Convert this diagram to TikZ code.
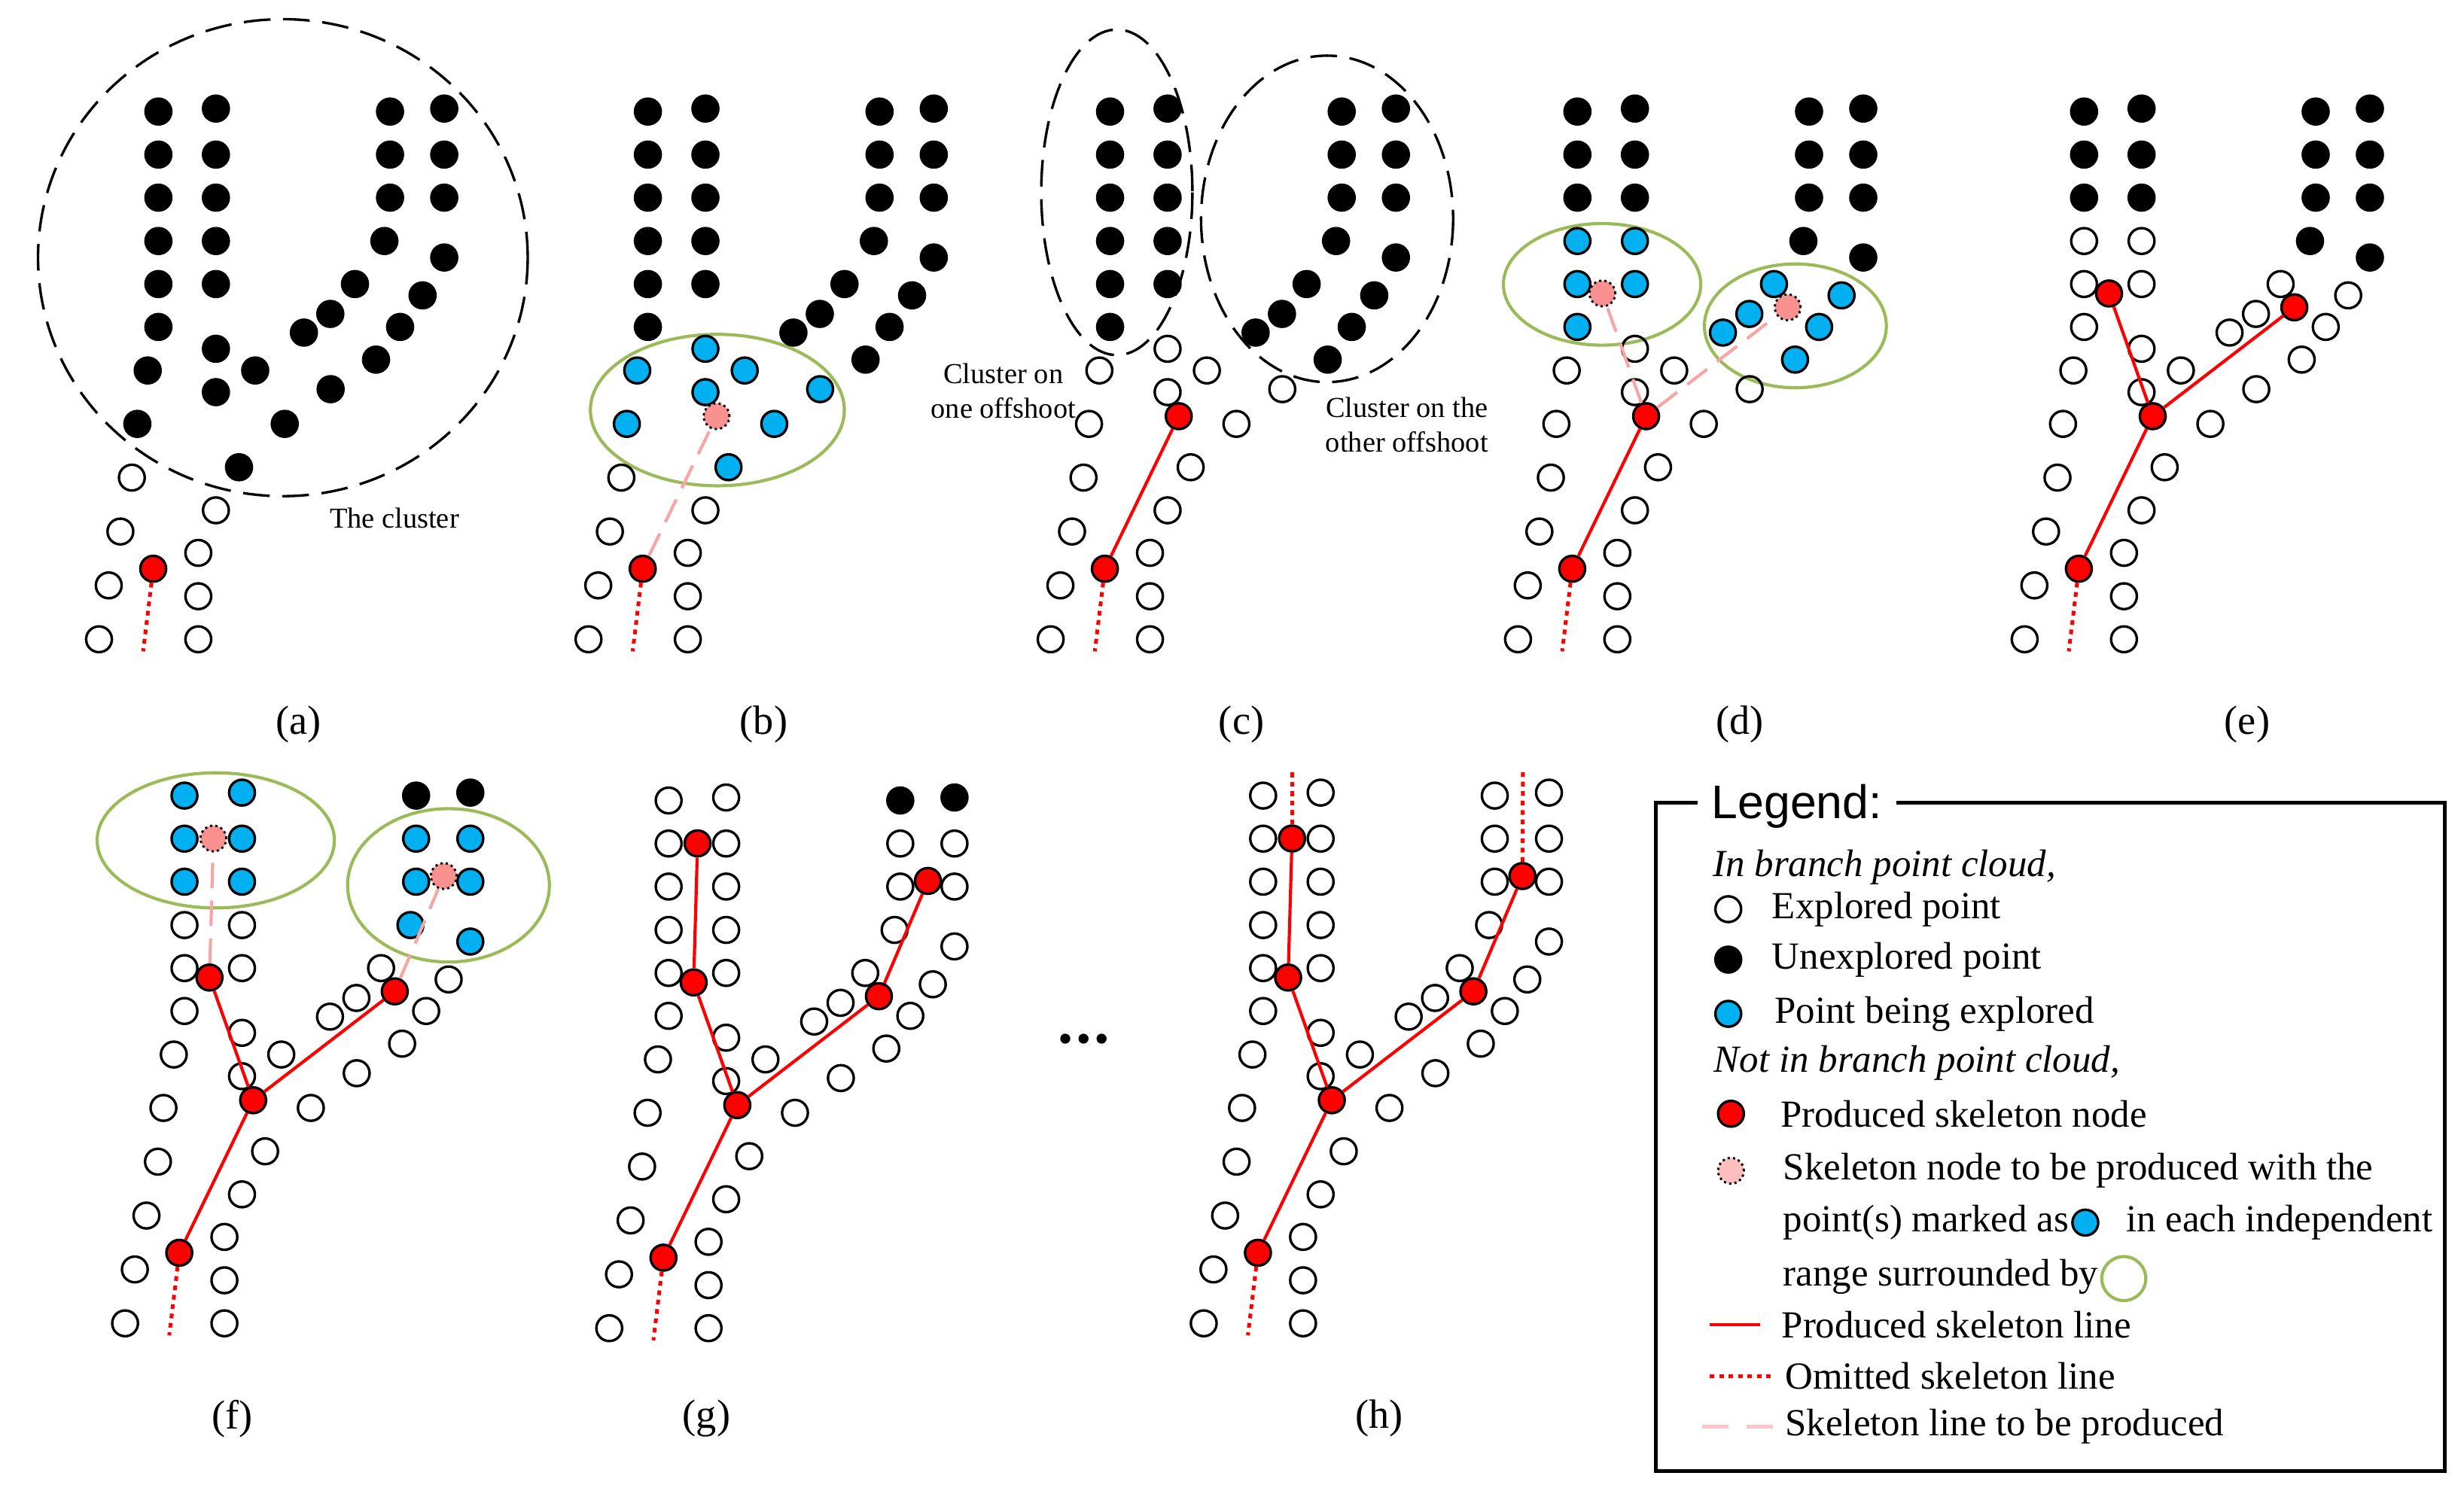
\documentclass[tikz,border=0pt]{standalone}
\usepackage{fontspec}
\setmainfont{Liberation Serif}
\newfontfamily\legendfont{Liberation Sans}

\definecolor{probeblue}{RGB}{0,176,240}
\definecolor{rangegreen}{RGB}{155,187,89}
\definecolor{pendpink}{RGB}{250,145,145}
\definecolor{linepink}{RGB}{248,165,165}
\definecolor{legpink}{RGB}{255,195,200}
\definecolor{legnode}{RGB}{255,190,190}

\tikzset{
  explored/.style={circle, draw=black, line width=0.8pt, minimum size=8.2pt, inner sep=0pt},
  unexplored/.style={explored, fill=black},
  exploring/.style={explored, fill=probeblue},
  skelnode/.style={explored, fill=red},
  pendnode/.style={circle, draw=black, densely dotted, line width=0.7pt, fill=pendpink, minimum size=8.2pt, inner sep=0pt},
  skelline/.style={red, line width=1pt},
  omitline/.style={red, line width=1.2pt, dash pattern=on 1.5pt off 1.5pt},
  pendline/.style={linepink, line width=1pt, dash pattern=on 8pt off 4pt},
  clusterring/.style={black, line width=0.8pt, dash pattern=on 8.5pt off 4pt},
  rangering/.style={rangegreen, line width=1pt},
  sublabel/.style={font=\fontsize{13}{15}\selectfont},
  note/.style={font=\fontsize{9.2}{11}\selectfont, align=center},
  legtext/.style={anchor=west, inner sep=0pt, font=\fontsize{12.2}{14}\selectfont},
  legital/.style={legtext, font=\fontsize{12.2}{14}\selectfont\itshape},
  legtitle/.style={fill=white, inner xsep=4.5pt, font=\legendfont\fontsize{15}{17}\selectfont}
}

% point template of one branch, offsets from the lowest left point
\def\template{L1/0/0, L2/6.2/-34.3, L3/13.6/-68.6, L4/20.9/-102.9, L5/24.4/-137.1,
  L6/31/-171.1, L7/37.8/-198.8, L8/37.8/-226.1, L9/37.8/-253.5, L10/37.8/-281.1,
  L11/37.8/-308.5, L12/37.8/-335.9,
  M1/63.2/0, M2/63.2/-27.4, M3/63.2/-55, M4/74.4/-82.1, M5/89.1/-109.5,
  M6/74.4/-157.3, M7/74.4/-184.9, M8/74.4/-226.1, M9/74.4/-253.5, M10/74.4/-281.1,
  M11/74.4/-308.5, M12/74.4/-337.8,
  N1/99.4/-171.1, N2/118.2/-137.1,
  P1/130.4/-195.2, P2/147.2/-207.1, P3/162.9/-226.1, P4/181.6/-253.5,
  P5/185.2/-281.1, P6/185.2/-308.5, P7/185.2/-335.9,
  Q1/147.4/-159.2, Q2/176.3/-178, Q3/191.6/-198.8, Q4/205.9/-218.9,
  Q5/219.7/-243, Q6/219.7/-281.1, Q7/219.7/-308.5, Q8/219.7/-337.8}

\makeatletter
\newcommand\setstate[2]{\@for\ptname:=#2\do{\expandafter\def\csname st@\ptname\endcsname{#1}}}
\newcommand\drawpoints[1]{%
  \foreach \n/\x/\y in \template {%
    \ifcsname st@\n\endcsname
      \edef\ptst{\csname st@\n\endcsname}%
    \else
      \def\ptst{explored}%
    \fi
    \expandafter\node\expandafter[\ptst] (#1\n) at (\x,\y) {};%
  }%
}
\makeatother

\begin{document}
\begin{tikzpicture}[x=0.5pt,y=-0.5pt]
  \useasboundingbox (0,0) rectangle (1568,949);

  % (a)
  \draw[clusterring] (180,164) ellipse [x radius=155.8, y radius=151.8];
  \begin{scope}[shift={(63,406.9)}]
    \setstate{unexplored}{L5,L6,L7,L8,L9,L10,L11,L12,M5,M6,M7,M8,M9,M10,M11,M12,N1,N2,P1,P2,P3,P4,P5,P6,P7,Q1,Q2,Q3,Q4,Q5,Q6,Q7,Q8}
    \drawpoints{a}
    \node[skelnode] (aR1) at (34.5,-44.9) {};
    \coordinate (aE) at (28.1,7.7);
    \draw[omitline] (aR1) -- (aE);
  \end{scope}
  \node[note] (clusA) at (251,330) {The cluster};
  \node[sublabel] (labA) at (190,461) {(a)};

  % (b)
  \draw[rangering] (456.5,261) ellipse [x radius=80.8, y radius=48.2];
  \begin{scope}[shift={(374.5,406.9)}]
    \setstate{unexplored}{L7,L8,L9,L10,L11,L12,M8,M9,M10,M11,M12,P1,P2,P3,P4,P5,P6,P7,Q2,Q3,Q4,Q5,Q6,Q7,Q8}
    \setstate{exploring}{L5,L6,M5,M6,M7,N1,N2,Q1}
    \drawpoints{b}
    \node[skelnode] (bR1) at (34.5,-44.9) {};
    \node[pendnode] (bR2) at (81.5,-142) {};
    \coordinate (bE) at (28.1,7.7);
    \draw[omitline] (bR1) -- (bE);
    \draw[pendline] (bR1) -- (bR2);
  \end{scope}
  \node[sublabel] (labB) at (486,461) {(b)};

  % (c)
  \draw[clusterring] (710.7,122.4) ellipse [x radius=48.1, y radius=103.6];
  \draw[clusterring] (844.5,139.3) ellipse [x radius=80.2, y radius=103.9];
  \begin{scope}[shift={(668.6,406.9)}]
    \setstate{unexplored}{L7,L8,L9,L10,L11,L12,M8,M9,M10,M11,M12,P1,P2,P3,P4,P5,P6,P7,Q2,Q3,Q4,Q5,Q6,Q7,Q8}
    \drawpoints{c}
    \node[skelnode] (cR1) at (34.5,-44.9) {};
    \node[skelnode] (cR2) at (81.5,-142) {};
    \coordinate (cE) at (28.1,7.7);
    \draw[omitline] (cR1) -- (cE);
    \draw[skelline] (cR1) -- (cR2);
  \end{scope}
  \node[note] (clusC1) at (638.5,248.8) {Cluster on\\one offshoot};
  \node[note] (clusC2) at (895.3,270.4) {Cluster on the\\other offshoot};
  \node[sublabel] (labC) at (790,461) {(c)};

  % (d)
  \draw[rangering] (1019.5,181) ellipse [x radius=62.8, y radius=38.7];
  \draw[rangering] (1142.5,207.4) ellipse [x radius=57.9, y radius=39.4];
  \begin{scope}[shift={(966,406.9)}]
    \setstate{unexplored}{L10,L11,L12,M10,M11,M12,P4,P5,P6,P7,Q5,Q6,Q7,Q8}
    \setstate{exploring}{L7,L8,L9,M8,M9,P1,P2,P3,Q2,Q3,Q4}
    \drawpoints{d}
    \node[skelnode] (dR1) at (34.5,-44.9) {};
    \node[skelnode] (dR2) at (81.5,-142) {};
    \node[pendnode] (dR3) at (53.7,-220.1) {};
    \node[pendnode] (dR4) at (171.6,-211.3) {};
    \coordinate (dE) at (28.1,7.7);
    \draw[omitline] (dR1) -- (dE);
    \draw[skelline] (dR1) -- (dR2);
    \draw[pendline] (dR2) -- (dR3);
    \draw[pendline] (dR2) -- (dR4);
  \end{scope}
  \node[sublabel] (labD) at (1107,461) {(d)};

  % (e)
  \begin{scope}[shift={(1288.4,406.9)}]
    \setstate{unexplored}{L10,L11,L12,M10,M11,M12,P4,P5,P6,P7,Q5,Q6,Q7,Q8}
    \drawpoints{e}
    \node[skelnode] (eR1) at (34.5,-44.9) {};
    \node[skelnode] (eR2) at (81.5,-142) {};
    \node[skelnode] (eR3) at (53.7,-220.1) {};
    \node[skelnode] (eR4) at (171.6,-211.3) {};
    \coordinate (eE) at (28.1,7.7);
    \draw[omitline] (eR1) -- (eE);
    \draw[skelline] (eR1) -- (eR2) (eR2) -- (eR3) (eR2) -- (eR4);
  \end{scope}
  \node[sublabel] (labE) at (1430,461) {(e)};

  % (f)
  \draw[rangering] (137.3,534.9) ellipse [x radius=75.5, y radius=43];
  \draw[rangering] (285.4,563.5) ellipse [x radius=64.2, y radius=48.8];
  \begin{scope}[shift={(79.6,842.3)}]
    \setstate{unexplored}{P7,Q8}
    \setstate{exploring}{L10,L11,L12,M10,M11,M12,P4,P5,P6,Q5,Q6,Q7}
    \drawpoints{f}
    \node[skelnode] (fR1) at (34.5,-44.9) {};
    \node[skelnode] (fR2) at (81.5,-142) {};
    \node[skelnode] (fR3) at (53.7,-220.1) {};
    \node[skelnode] (fR4) at (171.6,-211.3) {};
    \node[pendnode] (fR5) at (56.2,-308.6) {};
    \node[pendnode] (fR6) at (202.8,-284.7) {};
    \coordinate (fE) at (28.1,7.7);
    \draw[omitline] (fR1) -- (fE);
    \draw[skelline] (fR1) -- (fR2) (fR2) -- (fR3) (fR2) -- (fR4);
    \draw[pendline] (fR3) -- (fR5);
    \draw[pendline] (fR4) -- (fR6);
  \end{scope}
  \node[sublabel] (labF) at (147.7,903) {(f)};

  % (g)
  \begin{scope}[shift={(387.7,845.4)}]
    \setstate{unexplored}{P7,Q8}
    \drawpoints{g}
    \node[skelnode] (gR1) at (34.5,-44.9) {};
    \node[skelnode] (gR2) at (81.5,-142) {};
    \node[skelnode] (gR3) at (53.7,-220.1) {};
    \node[skelnode] (gR4) at (171.6,-211.3) {};
    \node[skelnode] (gR5) at (56.2,-308.6) {};
    \node[skelnode] (gR6) at (202.8,-284.7) {};
    \coordinate (gE) at (28.1,7.7);
    \draw[omitline] (gR1) -- (gE);
    \draw[skelline] (gR1) -- (gR2) (gR2) -- (gR3) (gR3) -- (gR5)
                    (gR2) -- (gR4) (gR4) -- (gR6);
  \end{scope}
  \node[sublabel] (labG) at (449.6,903) {(g)};

  % dots between (g) and (h)
  \foreach \dx in {677.9,689.5,701}
    \fill (\dx,661.1) circle [radius=3.2];

  % (h)
  \begin{scope}[shift={(766,842.3)}]
    \drawpoints{h}
    \node[skelnode] (hR1) at (34.5,-44.9) {};
    \node[skelnode] (hR2) at (81.5,-142) {};
    \node[skelnode] (hR3) at (53.7,-220.1) {};
    \node[skelnode] (hR4) at (171.6,-211.3) {};
    \node[skelnode] (hR5) at (56.2,-308.6) {};
    \node[skelnode] (hR6) at (202.8,-284.7) {};
    \coordinate (hE) at (28.1,7.7);
    \coordinate (hT5) at (56.2,-351.3);
    \coordinate (hT6) at (203.1,-351.3);
    \draw[omitline] (hR1) -- (hE);
    \draw[omitline] (hR5) -- (hT5);
    \draw[omitline] (hR6) -- (hT6);
    \draw[skelline] (hR1) -- (hR2) (hR2) -- (hR3) (hR3) -- (hR5)
                    (hR2) -- (hR4) (hR4) -- (hR6);
  \end{scope}
  \node[sublabel] (labH) at (877.7,903) {(h)};

  % legend
  \draw[line width=1.2pt] (1053.8,510.9) rectangle (1555.6,936.4);
  \node[legtitle] (legTitle) at (1143.4,513.3) {Legend:};
  \node[legital] (legIn) at (1089.7,551.8) {In branch point cloud,};
  \node[explored] (legE) at (1099.8,578.7) {};
  \node[legtext] (legEt) at (1127.3,578.7) {Explored point};
  \node[unexplored] (legU) at (1099.8,610.8) {};
  \node[legtext] (legUt) at (1127.3,610.8) {Unexplored point};
  \node[exploring] (legB) at (1099.8,645.3) {};
  \node[legtext] (legBt) at (1129,645.3) {Point being explored};
  \node[legital] (legNot) at (1090.4,676.5) {Not in branch point cloud,};
  \node[skelnode] (legR) at (1101.5,708.9) {};
  \node[legtext] (legRt) at (1132.7,708.9) {Produced skeleton node};
  \node[pendnode, fill=legnode] (legP) at (1101.5,745.2) {};
  \node[legtext] (legPt1) at (1134.4,745.2) {Skeleton node to be produced with the};
  \node[legtext] (legPt2) at (1134.4,778.2) {point(s) marked as};
  \node[exploring] (legPB) at (1327,778.2) {};
  \node[legtext] (legPt3) at (1352.6,778.2) {in each independent};
  \node[legtext] (legPt4) at (1134.4,812.6) {range surrounded by};
  \draw[rangering] (1351.5,813.8) circle [radius=14];
  \coordinate (lsA) at (1088,843);
  \coordinate (lsB) at (1120,843);
  \draw[skelline] (lsA) -- (lsB);
  \node[legtext] (legLt1) at (1133.4,843) {Produced skeleton line};
  \coordinate (loA) at (1088,876);
  \coordinate (loB) at (1126.6,876);
  \draw[omitline] (loA) -- (loB);
  \node[legtext] (legLt2) at (1135.7,876) {Omitted skeleton line};
  \coordinate (lpA) at (1083,908.1);
  \coordinate (lpB) at (1128.3,908.1);
  \draw[pendline, legpink, dash pattern=on 8.4pt off 5.9pt] (lpA) -- (lpB);
  \node[legtext] (legLt3) at (1135.7,908.1) {Skeleton line to be produced};
\end{tikzpicture}
\end{document}
